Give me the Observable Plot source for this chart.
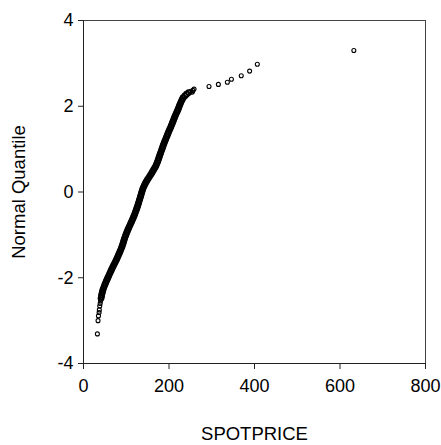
<!DOCTYPE html>
<html>
<head>
<meta charset="utf-8">
<script src="https://cdn.jsdelivr.net/npm/d3@7"></script>
<script src="https://cdn.jsdelivr.net/npm/@observablehq/plot@0.6"></script>
<style>
  html, body { margin: 0; padding: 0; background: #fff; }
</style>
</head>
<body>
<div id="chart"></div>
<script>
// Lower tail (individually visible circles)
const lowerTailPrice    = [32.5, 34, 35, 36.5, 37, 38, 39, 40];
const lowerTailQuantile = [-3.31, -3.00, -2.89, -2.81, -2.75, -2.66, -2.60, -2.54];

// Dense body of the Q-Q plot (read along the band)
const bodyQuantile = [
  -2.48,-2.44,-2.40,-2.36,-2.32,-2.28,-2.24,-2.20,-2.16,-2.12,-2.08,-2.04,
  -2.00,-1.96,-1.92,-1.88,-1.84,-1.80,-1.76,-1.72,-1.68,-1.64,-1.60,-1.56,
  -1.52,-1.48,-1.44,-1.40,-1.36,-1.32,-1.28,-1.24,-1.20,-1.16,-1.12,-1.08,
  -1.04,-1.00,-0.96,-0.92,-0.88,-0.84,-0.80,-0.76,-0.72,-0.68,-0.64,-0.60,
  -0.56,-0.52,-0.48,-0.44,-0.40,-0.36,-0.32,-0.28,-0.24,-0.20,-0.16,-0.12,
  -0.08,-0.04,0.00,0.04,0.08,0.12,0.16,0.20,0.24,0.28,0.32,0.36,
  0.40,0.44,0.48,0.52,0.56,0.60,0.64,0.68,0.72,0.76,0.80,0.84,
  0.88,0.92,0.96,1.00,1.04,1.08,1.12,1.16,1.20,1.24,1.28,1.32,
  1.36,1.40,1.44,1.48,1.52,1.56,1.60,1.64,1.68,1.72,1.76,1.80,
  1.84,1.88,1.92,1.96,2.00,2.04,2.08,2.12,2.16,2.20,2.24,2.28,2.32
];
const bodyPrice = [
  41.0,41.8,42.5,43.5,44.5,45.6,47.0,48.5,50.0,51.7,53.3,55.2,
  57.0,58.8,60.6,62.4,64.2,66.0,68.0,70.0,72.0,74.0,76.0,77.8,
  79.6,81.4,83.2,85.0,86.6,88.2,89.7,91.1,92.5,93.7,94.9,96.2,
  97.6,99.0,100.6,102.2,103.9,105.7,107.5,109.3,111.1,112.9,114.7,116.5,
  118.1,119.7,121.2,122.6,124.0,125.4,126.8,128.1,129.3,130.5,131.7,132.9,
  134.1,135.3,136.5,137.8,139.0,140.8,142.6,144.5,146.8,149.2,151.8,154.4,
  157.0,159.4,161.8,164.2,166.6,169.0,170.6,172.2,173.7,175.1,176.5,177.9,
  179.3,180.7,182.1,183.5,184.9,186.3,187.8,189.4,191.0,192.6,194.2,195.8,
  197.4,199.0,200.8,202.6,204.3,205.9,207.5,209.1,210.7,212.3,213.9,215.5,
  217.3,219.1,220.9,222.5,224.0,225.6,227.2,229.0,231.0,233.0,237.0,241.0,246.0
];

// Upper tail (individually visible circles)
const upperTailPrice    = [251, 254.5, 256, 258.6, 293.6, 315.5, 336.5, 346, 369, 388.6, 406.6, 632.4];
const upperTailQuantile = [2.35, 2.33, 2.37, 2.40, 2.46, 2.51, 2.56, 2.63, 2.71, 2.82, 2.98, 3.30];

// Axis ticks and labels
const xTicks = [0, 200, 400, 600, 800];
const yTicks = [-4, -2, 0, 2, 4];
const xLabel = "SPOTPRICE";
const yLabel = "Normal Quantile";

const tails = [
  ...lowerTailPrice.map((p, i) => ({price: p, q: lowerTailQuantile[i]})),
  ...upperTailPrice.map((p, i) => ({price: p, q: upperTailQuantile[i]}))
];
const body = bodyPrice.map((p, i) => ({price: p, q: bodyQuantile[i]}));

const font = "'Liberation Sans', Arial, Helvetica, sans-serif";
const fmt = d => String(d);

const chart = Plot.plot({
  width: 441,
  height: 445,
  marginLeft: 83,
  marginRight: 16,
  marginTop: 20,
  marginBottom: 82,
  style: {fontFamily: font, fontSize: "18px", color: "#000", background: "#fff"},
  x: {domain: [0, 800]},
  y: {domain: [-4, 4]},
  marks: [
    Plot.frame({stroke: "#444"}),
    Plot.axisX({ticks: xTicks, tickFormat: fmt, tickSize: 6, tickPadding: 10, fontSize: 18, label: null, stroke: "#222"}),
    Plot.axisY({ticks: yTicks, tickFormat: fmt, tickSize: 5, tickPadding: 5, fontSize: 18, label: null, stroke: "#222"}),
    Plot.ruleX([0], {stroke: "#222"}),
    Plot.ruleY([-4], {stroke: "#222"}),
    Plot.dot(body, {x: "price", y: "q", r: 2.6, stroke: "#000", strokeWidth: 1.6, fill: "none"}),
    Plot.dot(tails, {x: "price", y: "q", r: 2, stroke: "#000", strokeWidth: 1.1, fill: "none"}),
    Plot.text([xLabel], {frameAnchor: "bottom", dy: 76, fontSize: 18.5, fill: "#000"}),
    Plot.text([yLabel], {frameAnchor: "left", dx: -64, rotate: -90, textAnchor: "middle", fontSize: 18.5, fill: "#000"})
  ]
});

document.getElementById("chart").appendChild(chart);
</script>
</body>
</html>
